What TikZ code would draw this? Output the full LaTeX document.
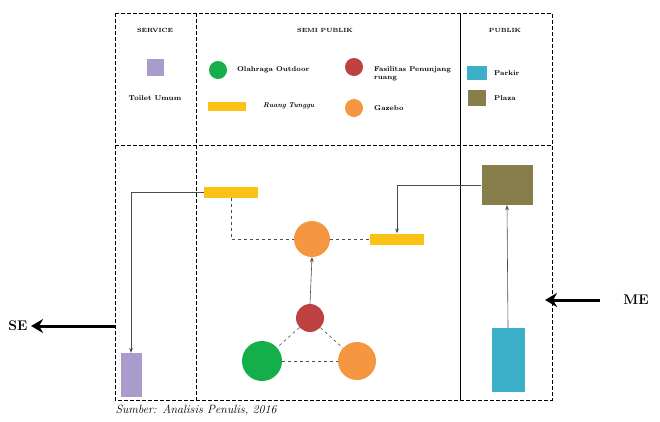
\documentclass[tikz,border=0pt]{standalone}
\usepackage{tikz}
\usepackage{xcolor}
\usetikzlibrary{arrows.meta}
\usetikzlibrary{shapes.geometric}
\definecolor{lilac}{RGB}{170,155,205}
\definecolor{leaf}{RGB}{20,175,75}
\definecolor{brick}{RGB}{190,65,65}
\definecolor{amber}{RGB}{250,195,20}
\definecolor{tangerine}{RGB}{245,150,65}
\definecolor{teal}{RGB}{60,175,200}
\definecolor{olive}{RGB}{135,125,75}
\tikzset{
	zone/.style={
		draw=black,
		dash pattern=on 4pt off 2pt,
		line width=0.9pt
	},
	legtext/.style={
		anchor=west,
		font=\fontsize{7}{8}\selectfont\bfseries,
		inner sep=1pt
	},
	bar/.style={
		fill=amber,
		minimum width=54,
		minimum height=11,
		inner sep=0
	},
	blob/.style={
		circle,
		inner sep=0
	},
	link/.style={
		draw=black!70,
		line width=0.6pt
	}
}

\begin{document}
\begin{tikzpicture}[x=1pt,y=-1pt]
	\useasboundingbox (0,0) rectangle (660,421);

	% zones
	\draw[zone] (115,13) rectangle (552,400);
	\draw[zone] (196,13) -- (196,400);
	\draw[zone] (115,145) -- (552,145);
	\draw[line width=0.7pt] (460,13) -- (460,400);

	\node[legtext,anchor=center,font=\fontsize{6}{7}\selectfont\bfseries] (hservice) at (155,30) {SERVICE};
	\node[legtext,anchor=center,font=\fontsize{6}{7}\selectfont\bfseries] (hsemi) at (325,30) {SEMI PUBLIK};
	\node[legtext,anchor=center,font=\fontsize{6}{7}\selectfont\bfseries] (hpublik) at (505,30) {PUBLIK};

	% legend
	\node[fill=lilac,minimum size=17,inner sep=0] (kToilet) at (155,67) {};
	\node[legtext,anchor=center] at (155,98) {Toilet Umum};
	\node[blob,fill=leaf,minimum size=18] (kGreen) at (218,70) {};
	\node[legtext] at (236,70) {Olahraga Outdoor};
	\node[blob,fill=brick,minimum size=18] (kRed) at (354,67) {};
	\node[legtext,align=left] at (373,74) {Fasilitas Penunjang\\ruang};
	\node[bar,minimum width=38,minimum height=9] (kBar) at (227,106) {};
	\node[legtext,font=\fontsize{7}{8}\selectfont\bfseries\itshape] at (262,106) {Ruang Tunggu};
	\node[blob,fill=tangerine,minimum size=18] (kOrange) at (354,108) {};
	\node[legtext] at (373,108) {Gazebo};
	\node[fill=teal,minimum width=20,minimum height=14,inner sep=0] (kParkir) at (477,73) {};
	\node[legtext] at (493,73) {Parkir};
	\node[fill=olive,minimum width=18,minimum height=16,inner sep=0] (kPlaza) at (477,98) {};
	\node[legtext] at (493,98) {Plaza};

	% diagram
	\node[bar] (barA) at (231,192) {};
	\node[bar] (barB) at (397,239) {};
	\node[blob,fill=tangerine,minimum size=36] (gazTop) at (312,239) {};
	\node[blob,fill=brick,minimum size=28] (fas) at (310,318) {};
	\node[blob,fill=leaf,minimum size=40] (olr) at (262,361) {};
	\node[blob,fill=tangerine,minimum size=38] (gazBot) at (357,361) {};
	\node[fill=lilac,minimum width=21,minimum height=44,inner sep=0] (toilet) at (131,375) {};
	\node[fill=teal,minimum width=33,minimum height=64,inner sep=0] (parkir) at (508,360) {};
	\node[fill=olive,minimum width=51,minimum height=40,inner sep=0] (plaza) at (507,185) {};

	\draw[link,-{Stealth[length=5pt]}] (barA.west) -| (toilet.north);
	\draw[link,dashed] (barA.south) |- (gazTop.west);
	\draw[link,dashed] (gazTop.east) -- (barB.west);
	\draw[link,-{Stealth[length=5pt]}] (plaza.west) -| (barB.north);
	\draw[link,-{Stealth[length=5pt]}] (parkir.north) -- (plaza.south);
	\draw[link,-{Stealth[length=5pt]}] (fas.north) -- (gazTop.south);
	\draw[link,dashed] (fas) -- (olr);
	\draw[link,dashed] (fas) -- (gazBot);
	\draw[link,dashed] (olr) -- (gazBot);

	% SE / ME
	\coordinate (seTail) at (115,326);
	\coordinate (meTail) at (600,300);
	\coordinate (meTip) at (545,300);
	\node[font=\fontsize{14}{16}\selectfont\bfseries] (se) at (18,326) {SE};
	\node[font=\fontsize{14}{16}\selectfont\bfseries] (me) at (636,300) {ME};
	\draw[line width=3pt,-{Stealth[length=12pt,width=14pt]}] (seTail) -- (se.east);
	\draw[line width=3pt,-{Stealth[length=12pt,width=14pt]}] (meTail) -- (meTip);

	\node[anchor=west,font=\fontsize{12}{13}\selectfont\itshape] (src) at (112,410) {Sumber: Analisis Penulis, 2016};
\end{tikzpicture}
\end{document}
